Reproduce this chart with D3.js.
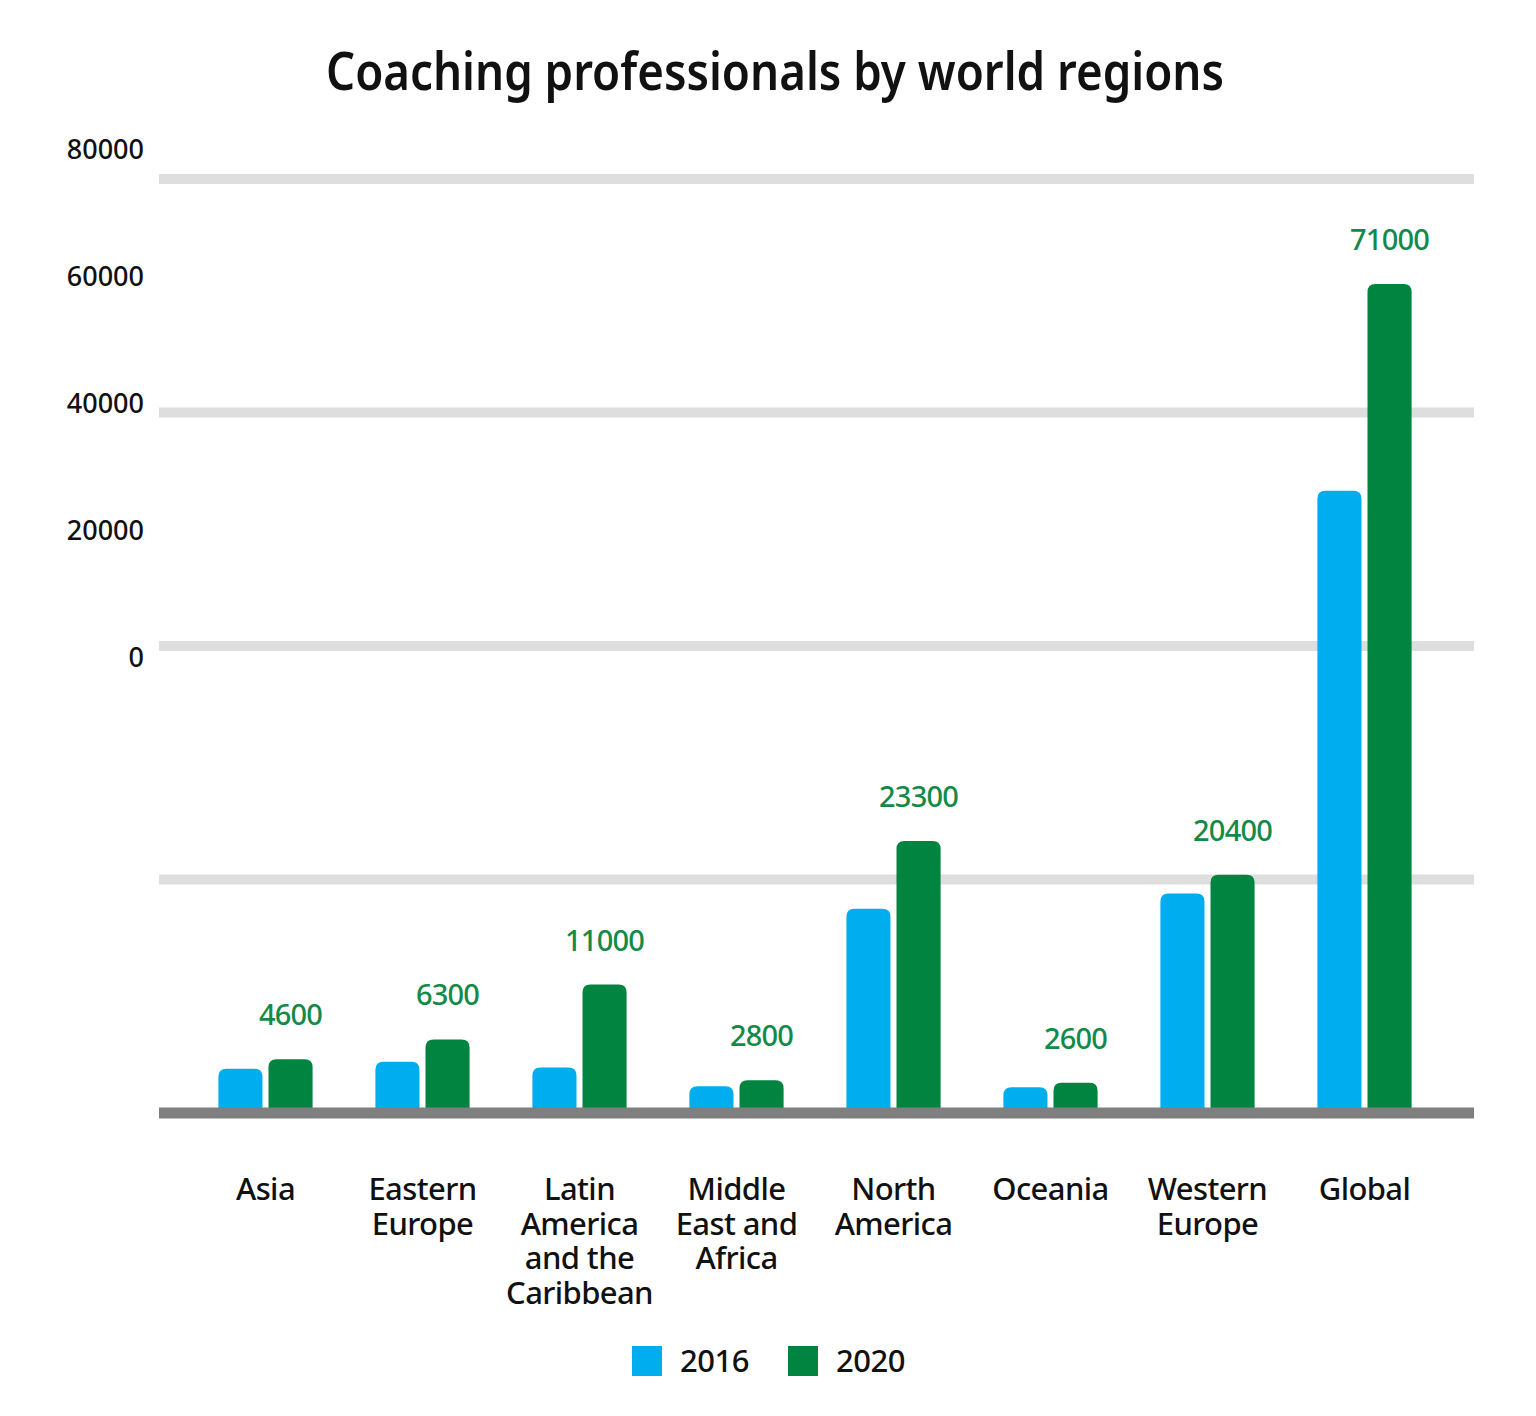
<!DOCTYPE html>
<html>
<head>
<meta charset="utf-8">
<script src="https://cdn.jsdelivr.net/npm/d3@7"></script>
<style>
  html, body { margin: 0; padding: 0; background: #ffffff; }
  svg { display: block; }
</style>
</head>
<body>
<div id="chart"></div>
<script>
// ---- data ----
const title = "Coaching professionals by world regions";
const categories = ["Asia", "Eastern Europe", "Latin America and the Caribbean", "Middle East and Africa", "North America", "Oceania", "Western Europe", "Global"];
const categoryLines = [["Asia"], ["Eastern", "Europe"], ["Latin", "America", "and the", "Caribbean"], ["Middle", "East and", "Africa"], ["North", "America"], ["Oceania"], ["Western", "Europe"], ["Global"]];
const seriesNames = ["2016", "2020"];
const values2016 = [3800, 4400, 3900, 2300, 17500, 2200, 18800, 53300];
const values2020 = [4600, 6300, 11000, 2800, 23300, 2600, 20400, 71000];
const gridTicks = [20000, 40000, 60000, 80000];
const axisTickLabels = [0, 20000, 40000, 60000, 80000];
const colors = ["#00aeef", "#00843f"];

// ---- layout ----
const W = 1536, H = 1416;
const svg = d3.select("#chart").append("svg").attr("width", W).attr("height", H);
const font = "'Noto Sans', 'Open Sans', sans-serif";

const y = d3.scaleLinear().domain([0, 80000]).range([1113, 179]);
// tick labels in the reference sit on their own (offset) spacing
const yLabel = d3.scaleLinear().domain([0, 80000]).range([658, 150]);
const x0 = d3.scaleBand().domain(categories).range([187, 1443]).paddingInner(0.4).paddingOuter(0.2);
const x1 = d3.scaleBand().domain(seriesNames).range([0, x0.bandwidth()]).paddingInner(0.12);

// title
svg.append("text")
  .attr("x", 775).attr("y", 90)
  .attr("text-anchor", "middle")
  .attr("font-family", font).attr("font-weight", 600)
  .attr("font-size", 52).attr("fill", "#111")
  .attr("textLength", 898).attr("lengthAdjust", "spacingAndGlyphs")
  .text(title);

// gridlines
svg.append("g").selectAll("line").data(gridTicks).join("line")
  .attr("x1", 159).attr("x2", 1474)
  .attr("y1", d => y(d)).attr("y2", d => y(d))
  .attr("stroke", "#dedede").attr("stroke-width", 10);

// y tick labels
const yAxis = svg.append("g").attr("transform", "translate(150,0)")
  .call(d3.axisLeft(yLabel).tickValues(axisTickLabels).tickSize(0).tickPadding(6).tickFormat(d3.format("d")));
yAxis.select(".domain").remove();
yAxis.selectAll("text").attr("font-family", font).attr("font-weight", 500).attr("font-size", 27).attr("fill", "#111");

// bars with rounded tops
function topRounded(x, yt, w, h, r) {
  r = Math.min(r, h, w / 2);
  return `M${x},${yt + h}V${yt + r}Q${x},${yt} ${x + r},${yt}H${x + w - r}Q${x + w},${yt} ${x + w},${yt + r}V${yt + h}Z`;
}
const rows = categories.map((c, i) => ({ c, vals: [values2016[i], values2020[i]] }));
const groups = svg.append("g").selectAll("g").data(rows).join("g")
  .attr("transform", d => `translate(${x0(d.c)},0)`);
groups.selectAll("path").data(d => d.vals.map((v, k) => ({ v, k }))).join("path")
  .attr("d", d => topRounded(x1(seriesNames[d.k]), y(d.v), x1.bandwidth(), y(0) - y(d.v), 8))
  .attr("fill", d => colors[d.k]);

// value labels (2020)
svg.append("g").selectAll("text").data(rows).join("text")
  .attr("x", d => x0(d.c) + x1("2020") + x1.bandwidth() / 2)
  .attr("y", d => y(d.vals[1]) - 34)
  .attr("text-anchor", "middle")
  .attr("font-family", font).attr("font-weight", 500).attr("font-size", 29).attr("letter-spacing", -0.8)
  .attr("fill", "#138a48")
  .text(d => d.vals[1]);

// baseline axis
svg.append("line")
  .attr("x1", 159).attr("x2", 1474).attr("y1", y(0)).attr("y2", y(0))
  .attr("stroke", "#7f7f7f").attr("stroke-width", 11);

// category labels
const catG = svg.append("g").selectAll("text").data(categories).join("text")
  .attr("text-anchor", "middle")
  .attr("font-family", font).attr("font-weight", 500)
  .attr("font-size", 31).attr("letter-spacing", -0.6).attr("fill", "#111");
catG.each(function (c, i) {
  const t = d3.select(this);
  categoryLines[i].forEach((ln, j) => {
    t.append("tspan").attr("x", x0(c) + x0.bandwidth() / 2).attr("y", 1200 + j * 34.5).text(ln);
  });
});

// legend
const legend = [{ name: "2016", x: 632, c: colors[0] }, { name: "2020", x: 788, c: colors[1] }];
const lg = svg.append("g").selectAll("g").data(legend).join("g");
lg.append("rect").attr("x", d => d.x).attr("y", 1346).attr("width", 30).attr("height", 30).attr("fill", d => d.c);
lg.append("text").attr("x", d => d.x + 48).attr("y", 1372)
  .attr("font-family", font).attr("font-weight", 500).attr("font-size", 31).attr("letter-spacing", -0.5).attr("fill", "#111")
  .text(d => d.name);
</script>
</body>
</html>
